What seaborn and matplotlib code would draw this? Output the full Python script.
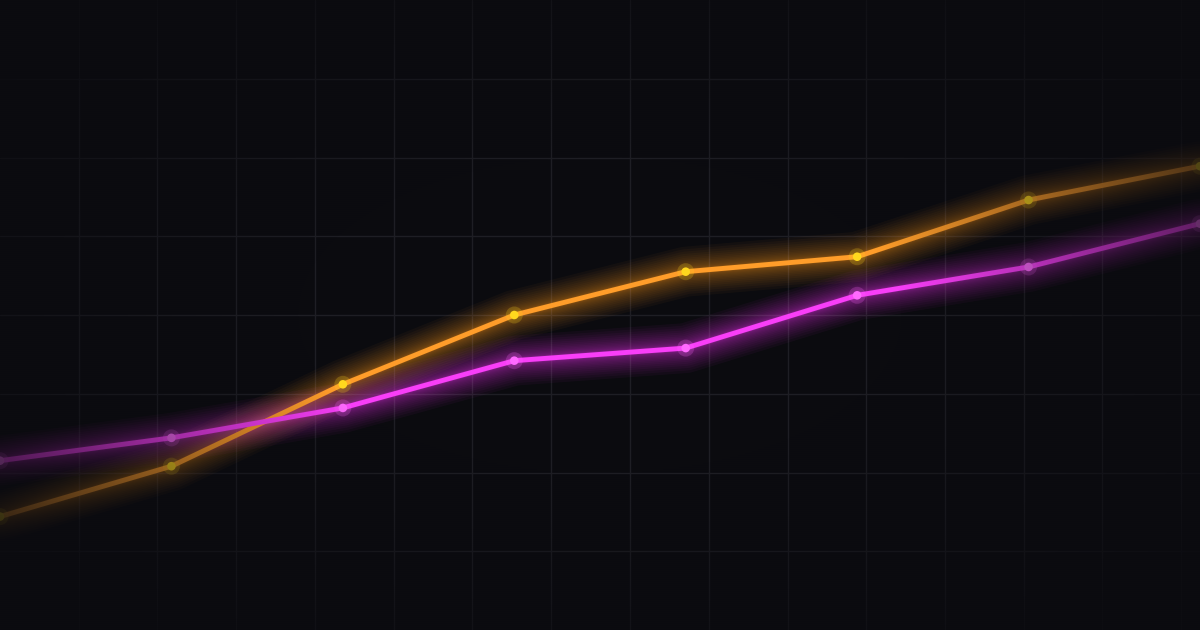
import numpy as np
import pandas as pd
import seaborn as sns
import matplotlib.pyplot as plt

# values (8 evenly spaced periods)
periods = [0, 1, 2, 3, 4, 5, 6, 7]
orange_vals = [14.4, 20.8, 31.2, 40.0, 45.5, 47.4, 54.6, 58.9]
magenta_vals = [21.5, 24.4, 28.2, 34.2, 35.8, 42.5, 46.1, 51.6]

BG = '#0b0b0f'
GRID = '#1e1e24'
series = [
    ('orange', orange_vals, '#ff9d2a', '#ffd81e'),
    ('magenta', magenta_vals, '#f83ef8', '#ff6aff'),
]

sns.set_theme(style='dark')
fig = plt.figure(figsize=(12, 6.3), dpi=100, facecolor=BG)
ax = fig.add_axes([0, 0, 1, 1])
ax.set_facecolor(BG)

cell_x = 7 * 78.75 / 1200
ax.set_xticks(np.arange(1, 16) * cell_x)
ax.set_yticks(np.arange(1, 8) * 10)
ax.grid(True, color=GRID, linewidth=1.0)
ax.tick_params(length=0, labelbottom=False, labelleft=False)
for s in ax.spines.values():
    s.set_visible(False)

for name, vals, col, mcol in series:
    df = pd.DataFrame({'period': periods, 'value': vals})
    # soft glow: widths packed near the core so it fades out gradually
    for t in np.linspace(1, 0, 18):
        lw = 4 + 32 * t ** 2
        sns.lineplot(data=df, x='period', y='value', ax=ax, color=col,
                     linewidth=lw, alpha=0.038, solid_capstyle='round',
                     solid_joinstyle='round', zorder=2)
    sns.lineplot(data=df, x='period', y='value', ax=ax, color=col,
                 linewidth=3.5, solid_joinstyle='round', zorder=3)
    sns.scatterplot(data=df, x='period', y='value', ax=ax, color=mcol,
                    s=150, alpha=0.22, edgecolor='none', zorder=4)
    sns.scatterplot(data=df, x='period', y='value', ax=ax, color=mcol,
                    s=38, edgecolor='none', zorder=5)

ax.set_xlabel(None)
ax.set_ylabel(None)
ax.set_xlim(0, 7)
ax.set_ylim(0, 80)

# edge fade (vignette) over everything
h, w = 315, 600
yy, xx = np.mgrid[0:h, 0:w]
nx = (xx / (w - 1)) * 2 - 1
ny = (yy / (h - 1)) * 2 - 1
r = np.sqrt(nx ** 2 + ny ** 2)
alpha = np.clip((r - 0.5) / 0.75, 0, 1) * 0.88
rgb = np.array([0x0b, 0x0b, 0x0f]) / 255
img = np.zeros((h, w, 4))
img[..., :3] = rgb
img[..., 3] = alpha
ax.imshow(img, extent=(0, 7, 0, 80), aspect='auto', zorder=10,
          interpolation='bilinear')

fig.savefig('out.png', dpi=100, facecolor=BG)
